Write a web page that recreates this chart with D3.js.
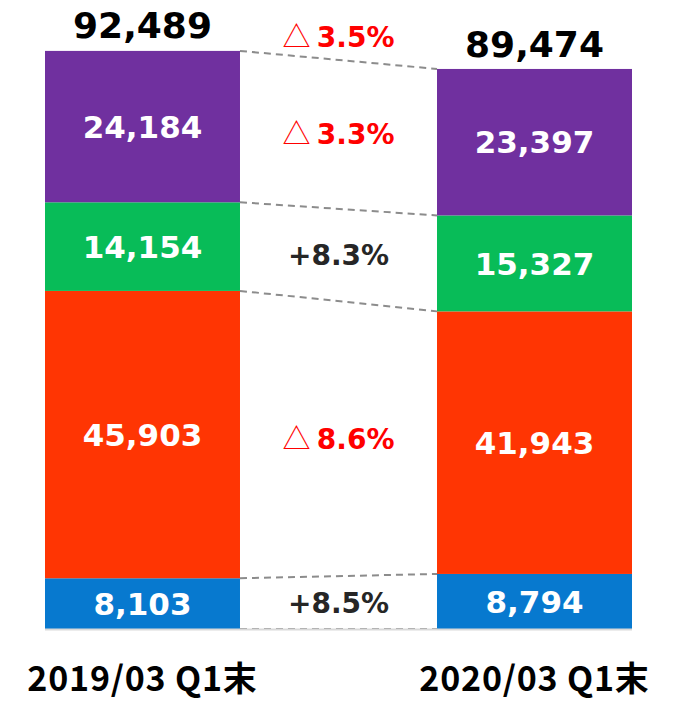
<!DOCTYPE html>
<html><head><meta charset="utf-8">
<script src="https://cdn.jsdelivr.net/npm/d3@7"></script>
<style>body{margin:0;background:#fff}svg{display:block}</style>
</head><body>
<svg id="c" width="677" height="701"></svg>
<script>
const periods = ["2019/03 Q1末", "2020/03 Q1末"];
const segments = ["blue", "orange", "green", "purple"];
const values2019 = [8103, 45903, 14154, 24184];
const values2020 = [8794, 41943, 15327, 23397];
const totals = [92489, 89474];
const changes = ["+8.5%", "△ 8.6%", "+8.3%", "△ 3.3%"];
const totalChange = "△ 3.5%";
const colors = ["#0779CF", "#FF3503", "#08BC58", "#70309F"];

const svg = d3.select("#c");
const x = d3.scaleBand().domain(periods).range([45, 632]).paddingInner(0.5026).paddingOuter(0);
const y = d3.scaleLinear().domain([0, 92489]).range([629, 50]);
const series = [values2019, values2020];

const stacks = series.map(vals => {
  let acc = 0;
  return vals.map(v => { const s = acc; acc += v; return {y0: s, y1: acc, v}; });
});

// dashed connectors
const xL = x(periods[0]) + x.bandwidth(), xR = x(periods[1]);
const conn = [0, ...stacks[0].map(d => d.y1)].map((v, i) => [v, i === 0 ? 0 : stacks[1][i-1].y1]);
svg.selectAll("line.conn").data(conn).join("line")
  .attr("x1", xL).attr("x2", xR)
  .attr("y1", d => y(d[0])).attr("y2", d => y(d[1]))
  .attr("stroke", "#8c8c8c").attr("stroke-width", 2).attr("stroke-dasharray", "7,5");

// bars
periods.forEach((p, pi) => {
  const g = svg.append("g");
  g.selectAll("rect").data(stacks[pi]).join("rect")
    .attr("x", x(p)).attr("width", x.bandwidth())
    .attr("y", d => y(d.y1)).attr("height", d => y(d.y0) - y(d.y1))
    .attr("fill", (d, i) => colors[i]);
  g.selectAll("text").data(stacks[pi]).join("text")
    .attr("x", x(p) + x.bandwidth() / 2)
    .attr("y", d => (y(d.y0) + y(d.y1)) / 2)
    .attr("dy", "0.36em").attr("text-anchor", "middle")
    .attr("font-family", "DejaVu Sans").attr("font-weight", "bold").attr("font-size", 31)
    .attr("fill", "#fff").text(d => d3.format(",")(d.v));
  svg.append("text")
    .attr("x", x(p) + x.bandwidth() / 2).attr("y", y(totals[pi]) - 12)
    .attr("text-anchor", "middle")
    .attr("font-family", "DejaVu Sans").attr("font-weight", "bold").attr("font-size", 36)
    .attr("fill", "#000").text(d3.format(",")(totals[pi]));
  svg.append("text")
    .attr("x", x(p) + x.bandwidth() / 2).attr("y", 691)
    .attr("text-anchor", "middle")
    .attr("font-family", "Noto Sans CJK JP").attr("font-weight", "bold").attr("font-size", 34)
    .attr("letter-spacing", 0.8)
    .attr("fill", "#000").text(p);
});

// baseline
svg.append("line").attr("x1", 45).attr("x2", 632).attr("y1", 629.5).attr("y2", 629.5)
  .attr("stroke", "#d9d9d9").attr("stroke-width", 2);

// change labels
const midX = (xL + xR) / 2;
function changeLabel(txt, cy) {
  const neg = txt.startsWith("△");
  const t = svg.append("text").attr("x", midX).attr("y", cy).attr("dy", "0.36em")
    .attr("text-anchor", "middle").attr("font-size", 28)
    .attr("fill", neg ? "#FF0000" : "#262626");
  if (neg) {
    t.append("tspan").attr("font-family", "Noto Sans CJK JP").attr("font-weight", "normal").text("△ ");
    t.append("tspan").attr("font-family", "DejaVu Sans").attr("font-weight", "bold").text(txt.slice(2));
  } else {
    t.attr("font-family", "DejaVu Sans").attr("font-weight", "bold").text(txt);
  }
}
changes.forEach((c, i) => {
  const a = stacks[0][i], b = stacks[1][i];
  const cyv = (y(a.y0) + y(a.y1) + y(b.y0) + y(b.y1)) / 4;
  changeLabel(c, cyv);
});
changeLabel(totalChange, 37);
</script>
</body></html>
